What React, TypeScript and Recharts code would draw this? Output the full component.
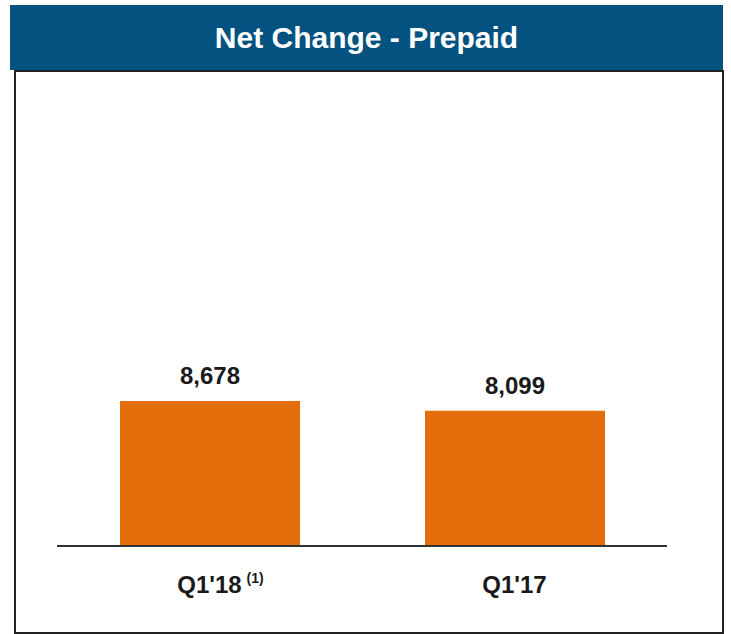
import { Bar, BarChart, LabelList, XAxis, YAxis } from "recharts"

const periods = ["Q1'18", "Q1'17"]
const footnotes = ["(1)", ""]
const netAdds = [8678, 8099]

const data = periods.map((period, i) => ({ period, note: footnotes[i], value: netAdds[i] }))

const font = "'Liberation Sans', Arial, Helvetica, sans-serif"

function PeriodTick(props: any) {
  const { x, y, payload, index } = props
  const note = footnotes[index] ?? ""
  return (
    <g>
      <text x={x} y={y + 39} textAnchor="middle" fontFamily={font} fontWeight="bold" fontSize={24} fill="#1a1a1a">
        {payload.value}
      </text>
      {note && (
        <text x={x + 37} y={y + 29} textAnchor="start" fontFamily={font} fontWeight="bold" fontSize={14} fill="#1a1a1a">
          {note}
        </text>
      )}
    </g>
  )
}

export default function App() {
  return (
    <div style={{ position: "absolute", left: 0, top: 0, width: 731, height: 634, background: "#fff" }}>
      <div
        style={{
          position: "absolute",
          left: 10,
          top: 5,
          width: 713,
          height: 65,
          background: "#04527f",
          color: "#fff",
          fontFamily: font,
          fontWeight: "bold",
          fontSize: 30,
          display: "flex",
          alignItems: "center",
          justifyContent: "center",
        }}
      >
        Net Change - Prepaid
      </div>
      <div
        style={{
          position: "absolute",
          left: 14,
          top: 70,
          width: 706,
          height: 560,
          border: "2px solid #222",
        }}
      />
      <div style={{ position: "absolute", left: 0, top: 0 }}>
        <BarChart width={731} height={634} data={data} margin={{ top: 212, right: 64, bottom: 0, left: 57 }}>
          <XAxis
            dataKey="period"
            axisLine={{ stroke: "#333", strokeWidth: 2 }}
            tickLine={false}
            tick={<PeriodTick />}
            height={88}
          />
          <YAxis hide domain={[0, 20000]} />
          <Bar dataKey="value" fill="#e36c0b" barSize={180} isAnimationActive={false}>
            <LabelList
              dataKey="value"
              position="top"
              offset={17}
              formatter={(v: any) => Number(v).toLocaleString("en-US")}
              style={{ fontFamily: font, fontWeight: "bold", fontSize: 24, fill: "#1a1a1a" }}
            />
          </Bar>
        </BarChart>
      </div>
    </div>
  )
}
